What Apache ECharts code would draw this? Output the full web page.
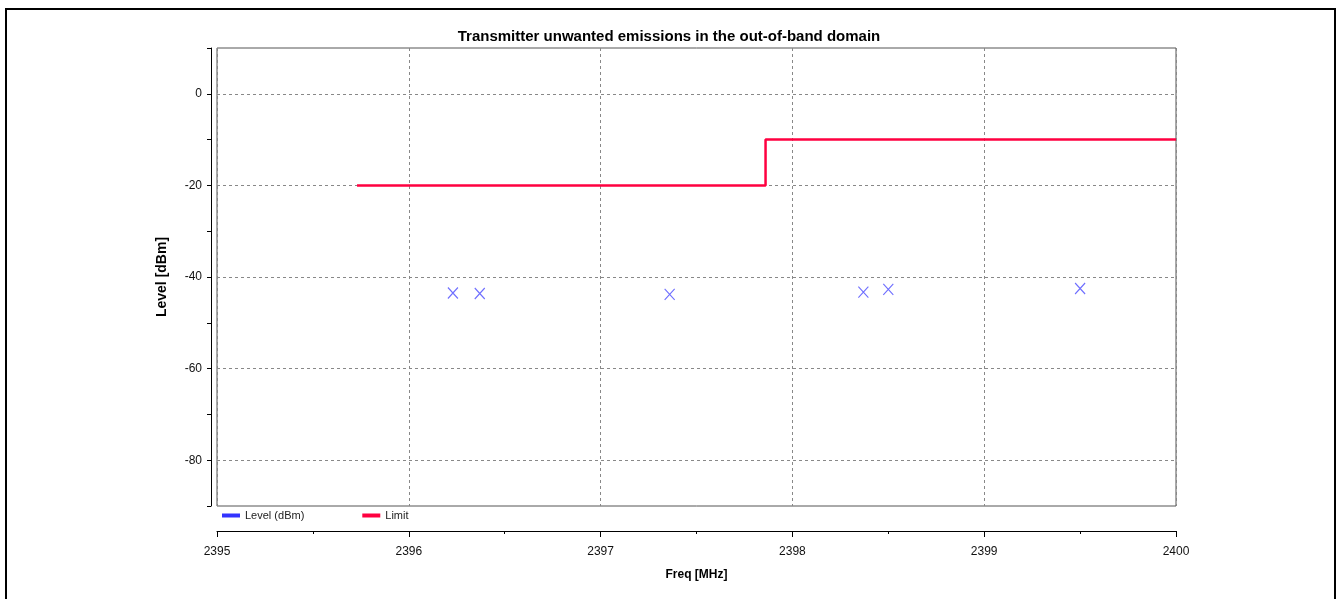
<!DOCTYPE html>
<html>
<head>
<meta charset="utf-8">
<script src="https://cdn.jsdelivr.net/npm/echarts@6/dist/echarts.min.js"></script>
<style>
  html, body { margin: 0; padding: 0; background: #fff; }
  #main { width: 1338px; height: 599px; }
  #frame { position: absolute; left: 5px; top: 8px; width: 1327px; height: 620px;
           border: 2px solid #000; pointer-events: none; }
</style>
</head>
<body>
<div id="main"></div>
<div id="frame"></div>
<script>
// measured points (MHz / dBm)
const levelFreq = [2396.23, 2396.37, 2397.36, 2398.37, 2398.50, 2399.50];
const levelDbm = [-43.5, -43.6, -43.8, -43.3, -42.7, -42.5];

// limit mask
const limitFreq = [2395.73, 2397.86, 2397.86, 2400];
const limitDbm = [-20, -20, -10, -10];

const seriesNames = ["Level (dBm)", "Limit"];

const font = "'Liberation Sans', Arial, sans-serif";

var chartDom = document.getElementById("main");
var myChart = echarts.init(chartDom);

let levelData = levelFreq.map((f, i) => [f, levelDbm[i]]);
let limitData = limitFreq.map((f, i) => [f, limitDbm[i]]);

var option = {
  animation: false,
  title: {
    text: "Transmitter unwanted emissions in the out-of-band domain",
    left: "center",
    top: 29,
    padding: 0,
    textStyle: { fontFamily: font, fontSize: 15, fontWeight: "bold", color: "#000" },
  },
  legend: {
    left: 222,
    top: 510,
    padding: 0,
    itemWidth: 18,
    itemHeight: 4,
    itemGap: 58,
    textStyle: { fontFamily: font, fontSize: 11, color: "#222" },
    data: [
      { name: seriesNames[0], icon: "rect", itemStyle: { color: "#0000ff", borderWidth: 0 } },
      { name: seriesNames[1], icon: "rect", itemStyle: { color: "#ff0040", borderWidth: 0 } },
    ],
  },
  grid: {
    left: 217,
    right: 162,
    top: 48,
    bottom: 93,
    show: true,
    borderColor: "#555",
    borderWidth: 1,
  },
  xAxis: {
    type: "value",
    min: 2395,
    max: 2400,
    interval: 1,
    offset: 25,
    name: "Freq [MHz]",
    nameLocation: "middle",
    nameGap: 38,
    nameTextStyle: { fontFamily: font, fontSize: 12, fontWeight: "bold", color: "#000" },
    axisLine: { show: true, onZero: false, lineStyle: { color: "#000", width: 1 } },
    axisTick: { show: true, length: 6, lineStyle: { color: "#000" } },
    minorTick: { show: true, splitNumber: 2, length: 3, lineStyle: { color: "#000" } },
    axisLabel: { margin: 15, fontFamily: font, fontSize: 12, color: "#111", formatter: (v) => String(v) },
    splitLine: { show: true, lineStyle: { color: "#888", type: [3, 3], width: 1 } },
  },
  yAxis: {
    type: "value",
    min: -90,
    max: 10,
    interval: 10,
    offset: 6,
    name: "Level [dBm]",
    nameLocation: "middle",
    nameGap: 42,
    nameTextStyle: { fontFamily: font, fontSize: 14, fontWeight: "bold", color: "#000" },
    axisLine: { show: true, lineStyle: { color: "#000", width: 1 } },
    axisTick: { show: true, length: 4, lineStyle: { color: "#000" } },
    axisLabel: {
      margin: 9,
      fontFamily: font,
      fontSize: 12,
      color: "#111",
      formatter: (v) => (v % 20 === 0 ? String(v) : ""),
    },
    // only every second line (multiples of 20) is visible
    splitLine: { show: true, lineStyle: { color: ["rgba(0,0,0,0)", "#888"], type: [3, 3], width: 1 } },
  },
  series: [
    {
      name: seriesNames[0],
      type: "scatter",
      data: levelData,
      symbol: "path://M0,0L10,10M10,0L0,10",
      symbolSize: [10, 11],
      itemStyle: { color: "rgba(0,0,0,0)", borderColor: "#4a4aff", borderWidth: 1.2 },
      z: 3,
    },
    {
      name: seriesNames[1],
      type: "line",
      data: limitData,
      symbol: "none",
      lineStyle: { color: "#ff0040", width: 2.5 },
      itemStyle: { color: "#ff0040" },
      z: 2,
    },
  ],
};

option && myChart.setOption(option);
</script>
</body>
</html>
